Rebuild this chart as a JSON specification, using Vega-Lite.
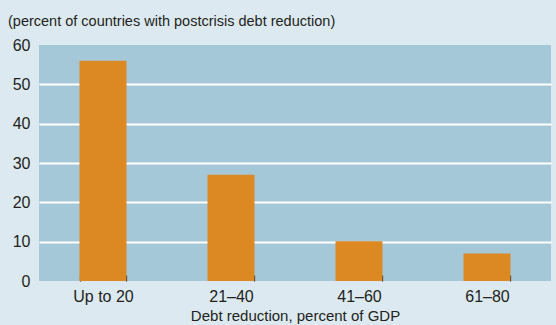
{
  "$schema": "https://vega.github.io/schema/vega-lite/v6.json",
  "width": 512,
  "height": 236,
  "autosize": {"type": "none"},
  "padding": {"left": 39, "top": 45, "right": 5, "bottom": 44},
  "background": "#dce9f1",
  "title": {
    "text": "(percent of countries with postcrisis debt reduction)",
    "anchor": "start",
    "frame": "group",
    "dx": -31,
    "offset": 8,
    "font": "Liberation Sans",
    "fontSize": 14.5,
    "fontWeight": "normal",
    "color": "#231f20"
  },
  "config": {
    "view": {"fill": "#a4c8d8", "stroke": null},
    "axis": {"labelFont": "Liberation Sans", "titleFont": "Liberation Sans", "labelColor": "#231f20", "titleColor": "#231f20"}
  },
  "data": {
    "values": [
      {"range": "Up to 20", "percent": 56},
      {"range": "21–40", "percent": 27},
      {"range": "41–60", "percent": 10.1},
      {"range": "61–80", "percent": 7}
    ]
  },
  "mark": {"type": "bar", "color": "#dc8823"},
  "encoding": {
    "x": {
      "field": "range",
      "type": "nominal",
      "sort": null,
      "scale": {"paddingInner": 0.633, "paddingOuter": 0.3165},
      "axis": {
        "title": "Debt reduction, percent of GDP",
        "titleFontSize": 15,
        "titleFontWeight": "normal",
        "titlePadding": 4,
        "labelAngle": 0,
        "labelFontSize": 16,
        "labelPadding": 13,
        "domain": false,
        "grid": false,
        "tickBand": "extent",
        "tickSize": -6,
        "tickColor": "#231f20",
        "tickWidth": 1.2
      }
    },
    "y": {
      "field": "percent",
      "type": "quantitative",
      "scale": {"domain": [0, 60], "nice": false},
      "axis": {
        "title": null,
        "values": [0, 10, 20, 30, 40, 50, 60],
        "ticks": false,
        "domain": false,
        "labelFontSize": 16,
        "labelPadding": 9,
        "labelBaseline": "middle",
        "labelDy": 2,
        "gridColor": "white",
        "gridWidth": 2,
        "gridOpacity": {"condition": {"test": "datum.value == 0 || datum.value == 60", "value": 0}, "value": 1}
      }
    }
  }
}
